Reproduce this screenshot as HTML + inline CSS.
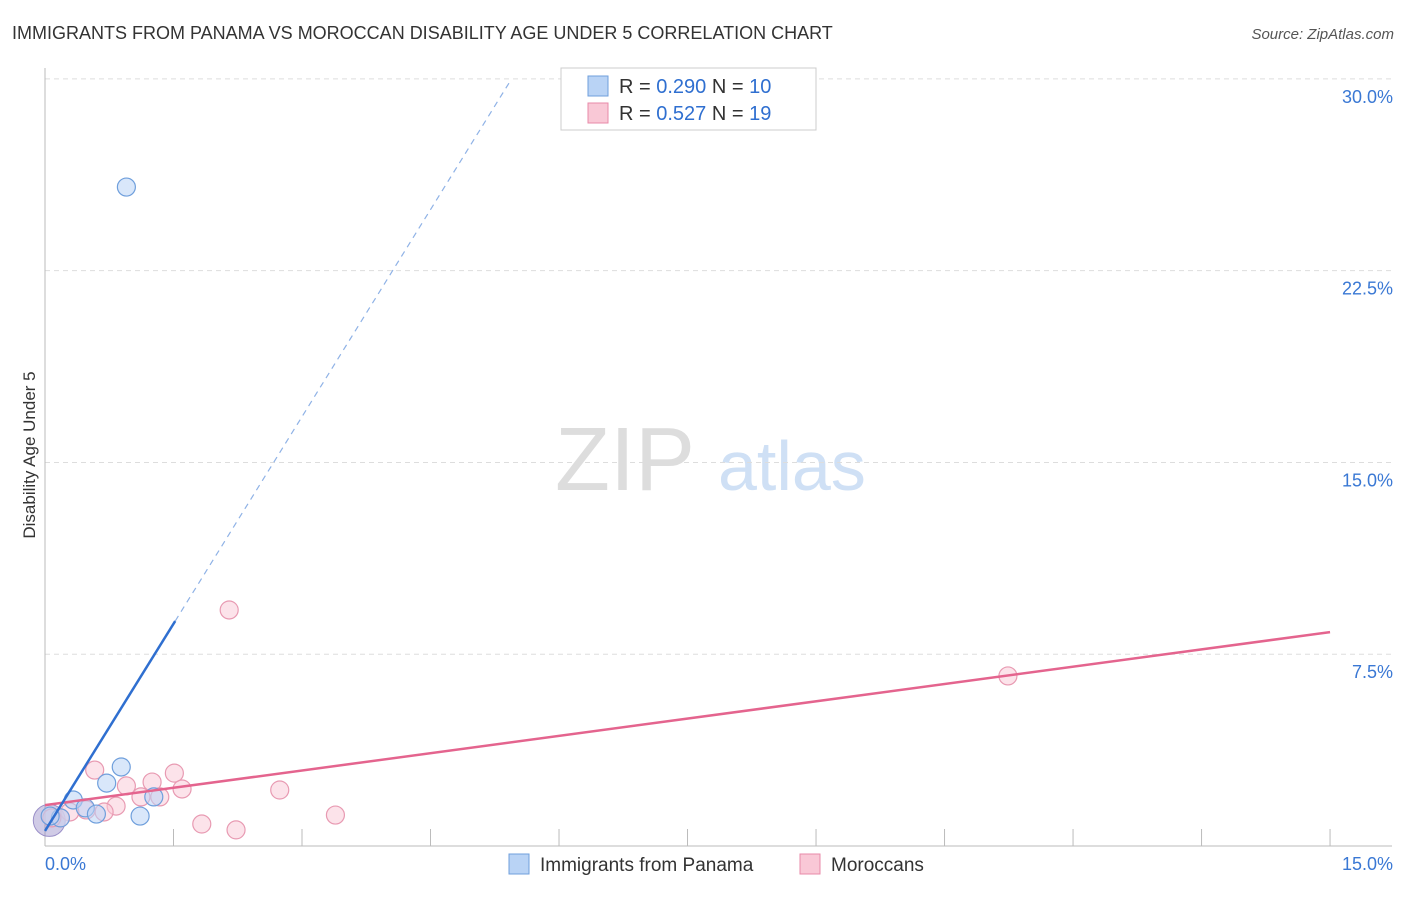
<!DOCTYPE html>
<html><head><meta charset="utf-8"><style>
body{margin:0;background:#fff;font-family:"Liberation Sans",sans-serif;}
svg text{font-family:"Liberation Sans",sans-serif;}
</style></head><body>
<svg id="c" width="1406" height="892">
<text x="12" y="39" font-size="18" fill="#333">IMMIGRANTS FROM PANAMA VS MOROCCAN DISABILITY AGE UNDER 5 CORRELATION CHART</text>
<text x="1394" y="39" font-size="15" fill="#555" font-style="italic" text-anchor="end">Source: ZipAtlas.com</text>
<text x="35" y="455" font-size="17" fill="#333" text-anchor="middle" transform="rotate(-90 35 455)">Disability Age Under 5</text>
<text x="555" y="490" font-size="90" fill="#ddd" font-family="Liberation Serif">ZIP</text>
<text x="718" y="490" font-size="70" fill="#cfe0f5">atlas</text>
<g id="grid"></g><g id="marks"></g>
<g>
<rect x="561" y="68" width="255" height="62" fill="#fff" stroke="#ccc"/>
<rect x="588" y="76" width="20" height="20" fill="#b9d3f5" stroke="#6f9fdc"/>
<text x="619" y="93" font-size="20" fill="#333">R = <tspan fill="#2f6fd0">0.290</tspan>   N = <tspan fill="#2f6fd0">10</tspan></text>
<rect x="588" y="103" width="20" height="20" fill="#f9c8d6" stroke="#e88aa8"/>
<text x="619" y="120" font-size="20" fill="#333">R = <tspan fill="#2f6fd0"> 0.527</tspan>   N = <tspan fill="#2f6fd0">19</tspan></text>
</g>
<g>
<rect x="509" y="854" width="20" height="20" fill="#b9d3f5" stroke="#6f9fdc"/>
<text x="540" y="871" font-size="19" fill="#333">Immigrants from Panama</text>
<rect x="800" y="854" width="20" height="20" fill="#f9c8d6" stroke="#e88aa8"/>
<text x="831" y="871" font-size="19" fill="#333">Moroccans</text>
</g>
</svg>
<script>
const yTicks=[7.5,15,22.5,30];
const yTickLabels=["7.5%","15.0%","22.5%","30.0%"];
const xTicks=[0,1.5,3,4.5,6,7.5,9,10.5,12,13.5,15];
const blueX=[0.95,0.89,0.72,0.33,0.47,0.60,1.11,1.27,0.18,0.06];
const blueY=[25.77,3.09,2.46,1.80,1.49,1.25,1.17,1.92,1.10,1.17];
const pinkX=[0.58,2.15,11.24,0.95,1.25,1.51,1.60,1.12,1.34,0.83,0.69,0.48,2.74,1.83,2.23,3.39,0.29,0.18,0.08];
const pinkY=[2.97,9.23,6.65,2.35,2.50,2.85,2.23,1.92,1.92,1.56,1.33,1.41,2.19,0.86,0.63,1.21,1.33,1.10,1.10];
const blueLine=[0.59,5.4];
const pinkLine=[1.6,0.451];
const X=v=>45+v*85.67, Y=v=>846-v*25.57;
const NS="http://www.w3.org/2000/svg";
const g=document.getElementById('grid'), m=document.getElementById('marks');
function mk(p,tag,a){const e=document.createElementNS(NS,tag);for(const k in a)e.setAttribute(k,a[k]);p.appendChild(e);return e;}
yTicks.forEach((t,i)=>{
const l=mk(g,'line',{x1:45,x2:1392,y1:Y(t),y2:Y(t),stroke:'#ddd','stroke-dasharray':'5,4'});


const tx=mk(g,'text',{x:1393,y:Y(t)+24,'text-anchor':'end','font-size':18,fill:'#3a78d4'});
tx.textContent=yTickLabels[i];


});
const ax=mk(g,'line',{x1:45,x2:45,y1:68,y2:846,stroke:'#bbb'});


const bx=mk(g,'line',{x1:45,x2:1392,y1:846,y2:846,stroke:'#bbb'});


xTicks.slice(1).forEach(t=>{
const l=mk(g,'line',{x1:X(t),x2:X(t),y1:829,y2:846,stroke:'#bbb'});


});
[["0.0%",45,'start'],["15.0%",1393,'end']].forEach(d=>{
const t=mk(g,'text',{x:d[1],y:870,'font-size':18,fill:'#3a78d4','text-anchor':d[2]});t.textContent=d[0];


});
// big origin circles
const bb=mk(m,'circle',{cx:X(0.05),cy:Y(1.0),r:16,fill:'rgba(150,140,200,0.45)',stroke:'#9a8fc8'});


pinkX.forEach((x,i)=>{
const c=mk(m,'circle',{cx:X(x),cy:Y(pinkY[i]),r:9,fill:'rgba(249,200,214,0.5)',stroke:'#e89ab2','stroke-width':1.2});


});
blueX.forEach((x,i)=>{
const c=mk(m,'circle',{cx:X(x),cy:Y(blueY[i]),r:9,fill:'rgba(185,211,245,0.55)',stroke:'#6f9fdc','stroke-width':1.2});


});
const pl=mk(m,'line',{x1:X(0),y1:Y(pinkLine[0]),x2:X(15),y2:Y(pinkLine[0]+15*pinkLine[1]),stroke:'#e4648e','stroke-width':2.5});


const xe=1.52, xd=(30-blueLine[0])/blueLine[1];
const bl=mk(m,'line',{x1:X(0),y1:Y(blueLine[0]),x2:X(xe),y2:Y(blueLine[0]+xe*blueLine[1]),stroke:'#2f6fd0','stroke-width':2.5});


const bd=mk(m,'line',{x1:X(xe),y1:Y(blueLine[0]+xe*blueLine[1]),x2:X(xd),y2:Y(30),stroke:'#8fb2e6','stroke-width':1.2,'stroke-dasharray':'6,5'});


</script>
</body></html>
